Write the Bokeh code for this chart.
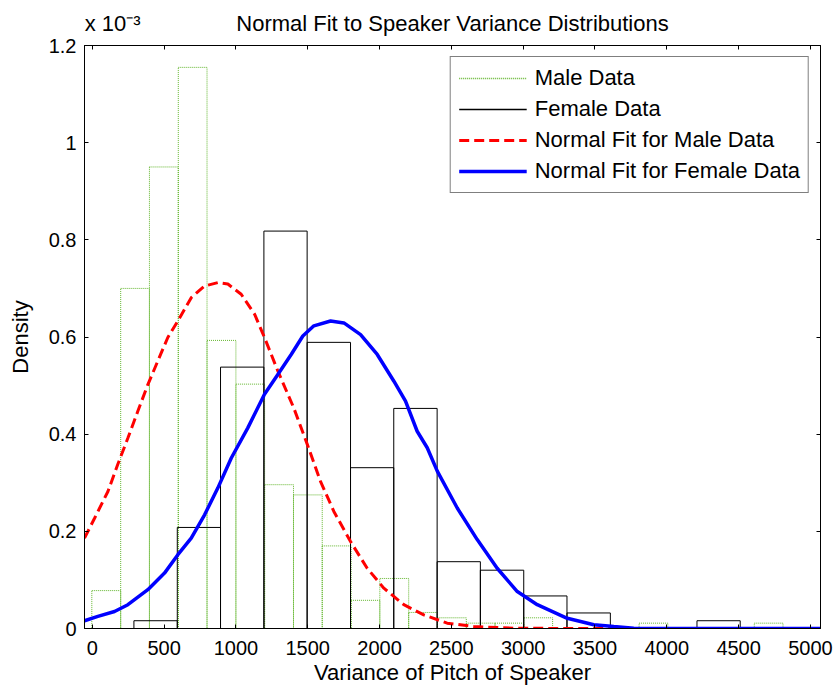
from bokeh.plotting import figure
from bokeh.models import (Range1d, LinearAxis, FixedTicker, Legend,
                          LegendItem, ColumnDataSource)
from bokeh.embed import file_html
from bokeh.resources import INLINE

# ---------------- data ----------------
# density values are in units of 10^-3
male_edges = [-3, 198, 398, 599, 799, 1000, 1200, 1401, 1601, 1802, 2002, 2203,
              2403, 2604, 2804, 3005, 3205, 3406, 3606, 3807, 4007, 4208, 4408,
              4609, 4809]
male_density = [0.078, 0.700, 0.950, 1.155, 0.593, 0.503, 0.296, 0.275, 0.170,
                0.058, 0.103, 0.033, 0.022, 0.011, 0.011, 0.022, 0.0, 0.0, 0.0,
                0.011, 0.0, 0.0, 0.0, 0.011]

female_edges = [290, 592, 893, 1195, 1496, 1798, 2099, 2401, 2702, 3004, 3305,
                3607, 3908, 4210, 4511, 4813]
female_density = [0.016, 0.208, 0.538, 0.818, 0.589, 0.331, 0.453, 0.1375,
                  0.120, 0.067, 0.032, 0.0, 0.0, 0.016, 0.0]

male_fit_x = [-54, 16, 109, 178, 248, 317, 387, 457, 526, 596, 689, 782, 874,
              944, 1037, 1130, 1199, 1292, 1403, 1497, 1589, 1682, 1798, 1914,
              2030, 2169, 2308, 2471, 2656, 2935, 3300, 3800, 4300, 4809]
male_fit_y = [0.186, 0.227, 0.282, 0.338, 0.392, 0.447, 0.502, 0.551, 0.599,
              0.633, 0.681, 0.705, 0.712, 0.709, 0.688, 0.647, 0.599, 0.530,
              0.454, 0.379, 0.303, 0.241, 0.179, 0.124, 0.083, 0.049, 0.028,
              0.011, 0.004, 0.0007, 0.0, 0.0, 0.0, 0.0]

female_fit_x = [-54, 39, 155, 248, 387, 503, 596, 689, 782, 874, 968, 1083,
                1199, 1292, 1385, 1466, 1543, 1659, 1752, 1868, 1984, 2100,
                2181, 2262, 2332, 2402, 2541, 2680, 2819, 2959, 3098, 3307,
                3492, 3631, 3770, 4200, 4700, 5070]
female_fit_y = [0.016, 0.025, 0.035, 0.049, 0.080, 0.114, 0.152, 0.186, 0.234,
                0.289, 0.351, 0.413, 0.482, 0.523, 0.564, 0.602, 0.623, 0.633,
                0.629, 0.605, 0.564, 0.509, 0.468, 0.406, 0.372, 0.324, 0.248,
                0.183, 0.124, 0.076, 0.049, 0.021, 0.0076, 0.004, 0.0007, 0.0,
                0.0, 0.0]

x_ticks = [0, 500, 1000, 1500, 2000, 2500, 3000, 3500, 4000, 4500, 5000]
y_ticks = [0, 0.2, 0.4, 0.6, 0.8, 1.0, 1.2]
y_tick_labels = ["0", "0.2", "0.4", "0.6", "0.8", "1", "1.2"]

title_text = "Normal Fit to Speaker Variance Distributions"
x_label = "Variance of Pitch of Speaker"
y_label = "Density"
exp_text = "x 10\u207b\u00b3"
legend_labels = ["Male Data", "Female Data", "Normal Fit for Male Data",
                 "Normal Fit for Female Data"]

# ---------------- styling ----------------
FONT = "Liberation Sans"
GREEN = "#62b52c"
X0, X1 = -54, 5070
Y0, Y1 = 0, 1.2
X_MID = (X0 + X1) / 2
EXP_POS = 142  # x-position (data units) at which the exponent note is centred

p = figure(width=836, height=689, x_range=Range1d(X0, X1), y_range=Range1d(Y0, Y1),
           output_backend="svg", toolbar_location=None,
           min_border_left=84, min_border_right=16, min_border_top=45,
           min_border_bottom=61, background_fill_color="white",
           border_fill_color="white")
p.xgrid.visible = False
p.ygrid.visible = False
p.outline_line_color = "black"
p.outline_line_width = 1
p.title.visible = False

# axes
for ax in p.xaxis:
    ax.ticker = FixedTicker(ticks=x_ticks)
    ax.major_tick_in = 4
    ax.major_tick_out = 0
    ax.minor_tick_in = 0
    ax.minor_tick_out = 0
    ax.major_label_text_font = FONT
    ax.major_label_text_font_size = "20px"
    ax.major_label_text_color = "black"
    ax.major_label_standoff = 12
    ax.axis_line_color = "black"
    ax.major_tick_line_color = "black"
    ax.axis_label = x_label
    ax.axis_label_text_font = FONT
    ax.axis_label_text_font_size = "22px"
    ax.axis_label_text_font_style = "normal"
    ax.axis_label_text_color = "black"
    ax.axis_label_standoff = 2

for ax in p.yaxis:
    ax.ticker = FixedTicker(ticks=y_ticks)
    ax.major_label_overrides = {t: s for t, s in zip(y_ticks, y_tick_labels)}
    ax.major_tick_in = 4
    ax.major_tick_out = 0
    ax.minor_tick_in = 0
    ax.minor_tick_out = 0
    ax.major_label_text_font = FONT
    ax.major_label_text_font_size = "20px"
    ax.major_label_text_color = "black"
    ax.major_label_standoff = 8
    ax.axis_line_color = "black"
    ax.major_tick_line_color = "black"
    ax.axis_label = y_label
    ax.axis_label_text_font = FONT
    ax.axis_label_text_font_size = "22px"
    ax.axis_label_text_font_style = "normal"
    ax.axis_label_text_color = "black"
    ax.axis_label_standoff = 13

top_ax = LinearAxis(ticker=FixedTicker(ticks=x_ticks))
right_ax = LinearAxis(ticker=FixedTicker(ticks=y_ticks))
for ax in (top_ax, right_ax):
    ax.major_tick_in = 4
    ax.major_tick_out = 0
    ax.minor_tick_in = 0
    ax.minor_tick_out = 0
    ax.major_label_text_font_size = "0px"
    ax.major_label_text_alpha = 0
    ax.major_label_standoff = 0
    ax.axis_line_color = "black"
    ax.major_tick_line_color = "black"
p.add_layout(top_ax, "above")
p.add_layout(right_ax, "right")

# text row above the frame: exponent note and title, as labels of a bare axis
text_ax = LinearAxis(ticker=FixedTicker(ticks=[EXP_POS, X_MID]))
text_ax.major_label_overrides = {EXP_POS: exp_text, X_MID: title_text}
text_ax.axis_line_color = None
text_ax.major_tick_line_color = None
text_ax.major_tick_in = 0
text_ax.major_tick_out = 0
text_ax.minor_tick_in = 0
text_ax.minor_tick_out = 0
text_ax.major_label_standoff = 10
text_ax.major_label_text_font = FONT
text_ax.major_label_text_font_size = "22px"
text_ax.major_label_text_color = "black"
p.add_layout(text_ax, "above")

# histograms
male_src = ColumnDataSource(dict(left=male_edges[:-1], right=male_edges[1:],
                                 top=male_density, bottom=[0] * len(male_density)))
female_src = ColumnDataSource(dict(left=female_edges[:-1], right=female_edges[1:],
                                   top=female_density, bottom=[0] * len(female_density)))

p.quad(left="left", right="right", top="top", bottom="bottom", source=male_src,
       fill_color=None, line_color=GREEN, line_width=1, line_dash="1 1")
p.quad(left="left", right="right", top="top", bottom="bottom", source=female_src,
       fill_color=None, line_color="black", line_width=1)

# fits
red_r = p.line(male_fit_x, male_fit_y, line_color="#ff0000", line_width=3,
               line_dash="10 5")
blue_r = p.line(female_fit_x, female_fit_y, line_color="#0000ff", line_width=3.5)

# legend proxies (kept outside the visible range)
male_leg = p.line([X0 - 600, X0 - 500], [0.5, 0.5], line_color=GREEN,
                  line_width=1.5, line_dash="1 1")
female_leg = p.line([X0 - 600, X0 - 500], [0.5, 0.5], line_color="black",
                    line_width=1.5)

legend = Legend(items=[LegendItem(label=legend_labels[0], renderers=[male_leg]),
                       LegendItem(label=legend_labels[1], renderers=[female_leg]),
                       LegendItem(label=legend_labels[2], renderers=[red_r]),
                       LegendItem(label=legend_labels[3], renderers=[blue_r])],
                location="top_right")
legend.label_text_font = FONT
legend.label_text_font_size = "22px"
legend.label_text_color = "black"
legend.glyph_width = 68
legend.glyph_height = 26
legend.label_height = 26
legend.spacing = 5
legend.padding = 8
legend.margin = 11
legend.label_standoff = 8
legend.border_line_color = "black"
legend.border_line_width = 1
legend.background_fill_color = "white"
legend.background_fill_alpha = 1
p.add_layout(legend)

open("out.html", "w").write(file_html(p, INLINE))
